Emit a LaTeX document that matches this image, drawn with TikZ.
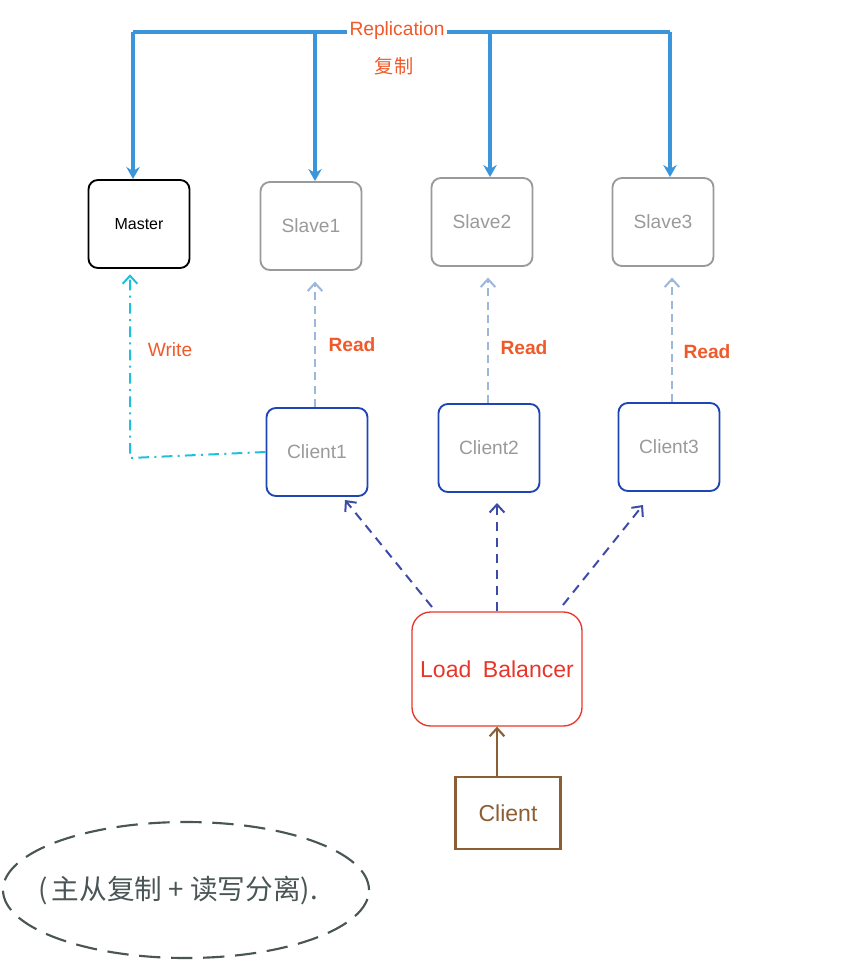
\documentclass[tikz,border=0pt]{standalone}
\usepackage{fontspec}
\setmainfont{Liberation Sans}
\newfontfamily\cjk{Noto Sans CJK SC}
\usetikzlibrary{arrows.meta,shapes.geometric}
\definecolor{repl}{HTML}{3A95DB}
\definecolor{lbl}{HTML}{F05A2A}
\definecolor{slave}{HTML}{9A9A9A}
\definecolor{cli}{HTML}{1F45B5}
\definecolor{readc}{HTML}{9DB7DA}
\definecolor{writec}{HTML}{1EC1DC}
\definecolor{lbc}{HTML}{E8352A}
\definecolor{lbar}{HTML}{3C4AA8}
\definecolor{brown}{HTML}{8B5E34}
\definecolor{ell}{HTML}{4A5555}
\tikzset{
  box/.style={draw, rounded corners=7pt, line width=1.4pt, minimum width=101pt*0.75, minimum height=88pt*0.75, inner sep=0pt},
  replarrow/.style={draw=repl, line width=2.8pt, -{Stealth[length=9pt,width=10pt]}},
  readarrow/.style={draw=readc, line width=1.5pt, dash pattern=on 6pt off 4pt, -{Straight Barb[length=6pt,width=11pt]}},
  writearrow/.style={draw=writec, line width=1.5pt, dash pattern=on 8pt off 4pt on 1.5pt off 4pt, -{Straight Barb[length=6pt,width=11pt]}},
  lbarrow/.style={draw=lbar, line width=1.5pt, dash pattern=on 7pt off 5pt, -{Straight Barb[length=6pt,width=11pt]}},
  lbltext/.style={text=lbl, font=\bfseries\Large},
}
\begin{document}
\begin{tikzpicture}[x=0.75pt,y=-0.75pt]
\useasboundingbox (0,0) rectangle (851,963);
% boxes
\node[box, draw=black, font=\large] (master) at (139,224) {Master};
\node[box, draw=slave, text=slave, font=\Large] (s1) at (311,226) {Slave1};
\node[box, draw=slave, text=slave, font=\Large] (s2) at (482,222) {Slave2};
\node[box, draw=slave, text=slave, font=\Large] (s3) at (663,222) {Slave3};
\node[box, draw=cli, text=slave, font=\Large] (c1) at (317,452) {Client1};
\node[box, draw=cli, text=slave, font=\Large] (c2) at (489,448) {Client2};
\node[box, draw=cli, text=slave, font=\Large] (c3) at (669,447) {Client3};
\node[draw=lbc, text=lbc, rounded corners=14pt, line width=1pt, minimum width=170pt*0.75, minimum height=114pt*0.75, font=\LARGE] (lb) at (497,669) {Load\enspace Balancer};
\node[draw=brown, text=brown, line width=1.6pt, minimum width=105pt*0.75, minimum height=72pt*0.75, font=\LARGE] (cl) at (508,813) {Client};
% replication
\coordinate (rl) at (133,32);
\coordinate (rr) at (670,32);
\draw[draw=repl, line width=2.8pt] (rl) -- (rr);
\node[fill=white, text=lbl, inner sep=2pt, font=\Large] (repl) at (397,31) {Replication};
\node[text=lbl, font=\cjk\Large] (fz) at (394,66) {复制};
\draw[replarrow] (rl) -- (master.north -| rl);
\draw[replarrow] (315,32) -- (s1.north -| 315,0);
\draw[replarrow] (490,32) -- (s2.north -| 490,0);
\draw[replarrow] (rr) -- (s3.north -| rr);
% read
\draw[readarrow] (c1.north -| 315,0) -- ([yshift=-8pt]s1.south -| 315,0);
\draw[readarrow] (c2.north -| 488,0) -- ([yshift=-8pt]s2.south -| 488,0);
\draw[readarrow] (c3.north -| 672,0) -- ([yshift=-8pt]s3.south -| 672,0);
\node[lbltext] at (352,345) {Read};
\node[lbltext] at (524,348) {Read};
\node[lbltext] at (707,352) {Read};
% write
\coordinate (wc) at (130,458);
\draw[writearrow] (c1.west) -- (wc) -- ([yshift=-4pt]master.south -| wc);
\node[text=lbl, font=\Large] at (170,350) {Write};
% LB to clients
\draw[lbarrow] (432,607) -- (345,500);
\draw[lbarrow] (lb.north -| 497,0) -- (497,503);
\draw[lbarrow] (563,605) -- (643,505);
% client to lb
\draw[draw=brown, line width=1.6pt, -{Straight Barb[length=6pt,width=11pt]}] (cl.north -| lb.south) -- (lb.south);
% ellipse
\node[draw=ell, dash pattern=on 16pt off 8pt, line width=1.6pt, ellipse, inner sep=0pt, minimum width=366pt*0.75, minimum height=136pt*0.75] (note) at (186,890) {};
\node[text=ell, font=\cjk\huge, inner sep=0pt] (notetext) at (178,890) {(\,主从复制 + 读写分离).};
\end{tikzpicture}
\end{document}
